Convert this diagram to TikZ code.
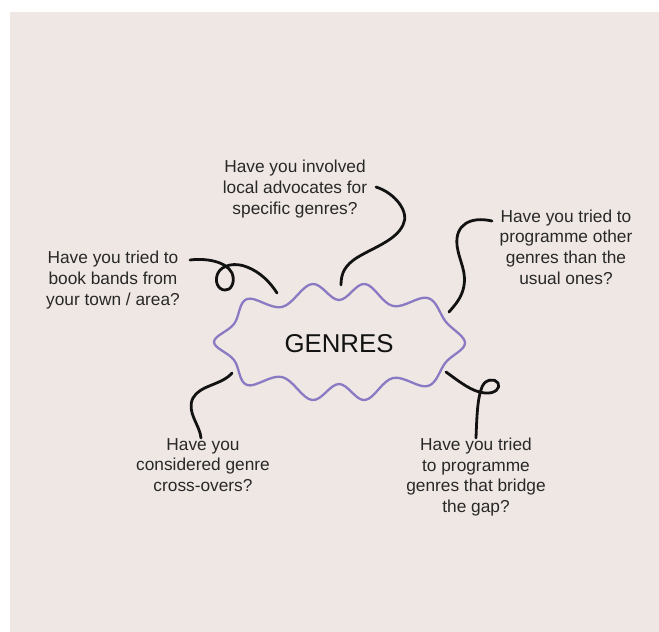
\documentclass[tikz,border=0pt]{standalone}
\usepackage{fontspec}
\setmainfont{Liberation Sans}
\definecolor{bgc}{RGB}{239,231,228}
\definecolor{cloudc}{RGB}{138,122,196}
\definecolor{ink}{RGB}{18,18,18}
\definecolor{txt}{RGB}{40,40,40}
\begin{document}
\begin{tikzpicture}[x=1pt,y=-1pt,
  qtext/.style={align=center,font=\fontsize{17.3}{20.7}\selectfont,text=txt,inner sep=0pt},
  squiggle/.style={draw=ink,line width=2.8pt,line cap=round,line join=round},
  cloudline/.style={draw=cloudc,line width=2.3pt,line join=round}]
\fill[white] (0,0) rectangle (659,632);
\useasboundingbox (0,0) rectangle (659,632);
\fill[bgc] (10,12) rectangle (659,632);

% cloud
\draw[cloudline] plot[smooth cycle, tension=0.62] coordinates {
 (214,342) (234,324) (247,299) (282,307) (312,284) (339,300) (365,284)
 (393,306) (428,298) (446,322) (465,343) (446,362) (428,386) (393,378)
 (365,400) (339,384) (312,400) (282,377) (247,385) (234,360)};
\node[font=\fontsize{25.8}{30}\selectfont,text=ink,inner sep=0pt] (genres) at (339,343.5) {GENRES};

% texts
\node[qtext] (q1) at (295,189) {Have you involved\\local advocates for\\specific genres?};
\node[qtext] (q2) at (566,247) {Have you tried to\\programme other\\genres than the\\usual ones?};
\node[qtext] (q3) at (113,280) {Have you tried to\\book bands from\\your town / area?};
\node[qtext] (q4) at (203,465) {Have you\\considered genre\\cross-overs?};
\node[qtext] (q5) at (476,477) {Have you tried\\to programme\\genres that bridge\\the gap?};

% connector ends
\coordinate (a0) at (376,187);  \coordinate (a1) at (341,285);
\coordinate (b0) at (492,221);  \coordinate (b1) at (449,312);
\coordinate (c0) at (190,260);  \coordinate (c1) at (277,293);
\coordinate (d0) at (232,373);  \coordinate (d1) at (201,438);
\coordinate (e0) at (446,372);  \coordinate (e1) at (476,438);

\draw[squiggle] (a0) .. controls (395,193) and (410,212) .. (403,225)
  .. controls (396,240) and (375,247) .. (358,257)
  .. controls (345,265) and (341,273) .. (a1);
\draw[squiggle] (b0) .. controls (470,216) and (455,225) .. (457,245)
  .. controls (459,262) and (468,272) .. (463,290)
  .. controls (460,300) and (454,306) .. (b1);
\draw[squiggle] (c0) .. controls (205,258) and (226,261) .. (232,273)
  .. controls (236,283) and (230,291) .. (225,290)
  .. controls (218,290) and (214,281) .. (218,273)
  .. controls (222,265) and (235,262) .. (247,267)
  .. controls (260,272) and (270,282) .. (c1);
\draw[squiggle] (d0) .. controls (222,385) and (200,385) .. (193,398)
  .. controls (186,412) and (200,425) .. (d1);
\draw[squiggle] (e0) .. controls (460,382) and (472,392) .. (485,393)
  .. controls (495,394) and (501,388) .. (498,383)
  .. controls (495,378) and (485,379) .. (482,387)
  .. controls (478,397) and (477,410) .. (e1);
\end{tikzpicture}
\end{document}
